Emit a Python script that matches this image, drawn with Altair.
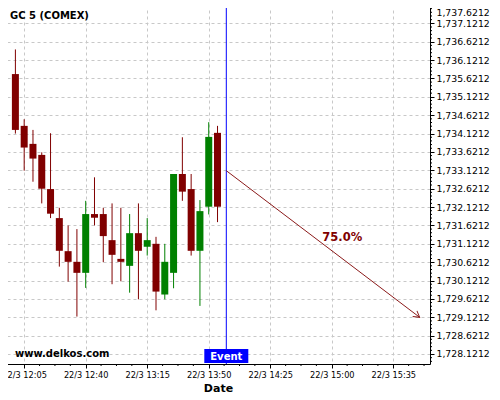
import altair as alt
import pandas as pd
import numpy as np

DAY = "2023-03-22"
times = ["12:00", "12:05", "12:10", "12:15", "12:20", "12:25", "12:30", "12:35",
         "12:40", "12:45", "12:50", "12:55", "13:00", "13:05", "13:10", "13:15",
         "13:20", "13:25", "13:30", "13:35", "13:40", "13:45", "13:50", "13:55"]
opens = [1735.74, 1734.33, 1733.84, 1733.54, 1732.61, 1731.82, 1730.92, 1730.63,
         1730.33, 1731.93, 1731.93, 1731.22, 1730.71, 1730.52, 1731.41, 1731.04,
         1731.12, 1729.74, 1730.33, 1733.02, 1732.61, 1730.93, 1732.13, 1734.14]
highs = [1736.41, 1734.51, 1734.22, 1733.61, 1734.13, 1732.10, 1731.62, 1731.52,
         1732.29, 1732.93, 1732.10, 1732.22, 1732.10, 1731.93, 1732.22, 1731.82,
         1731.31, 1731.12, 1733.02, 1734.02, 1733.02, 1732.31, 1734.43, 1734.33]
lows = [1734.12, 1733.11, 1732.81, 1732.22, 1731.82, 1730.50, 1730.09, 1729.14,
        1729.92, 1731.62, 1730.62, 1730.02, 1730.10, 1729.79, 1729.61, 1730.80,
        1729.31, 1729.61, 1729.91, 1732.29, 1730.80, 1729.43, 1731.92, 1731.71]
closes = [1734.22, 1733.74, 1733.44, 1732.62, 1731.94, 1730.93, 1730.63, 1730.33,
          1731.93, 1731.83, 1731.33, 1730.82, 1730.63, 1731.41, 1730.93, 1731.22,
          1729.82, 1730.63, 1733.02, 1732.54, 1730.93, 1732.01, 1734.03, 1732.13]

event_time = ["14:00"]
arrow_times = ["14:00", "15:50"]
arrow_values = [1733.11, 1729.12]
pct_label = ["75.0%"]
pct_time = ["15:06"]
pct_value = [1731.29]
chart_title = ["GC 5 (COMEX)"]
watermark = ["www.delkos.com"]
event_label = ["Event"]

x_tick_times = ["12:05", "12:40", "13:15", "13:50", "14:25", "15:00", "15:35"]
y_tick_values = [1728.1212, 1728.6212, 1729.1212, 1729.6212, 1730.1212, 1730.6212,
                 1731.1212, 1731.6212, 1732.1212, 1732.6212, 1733.1212, 1733.6212,
                 1734.1212, 1734.6212, 1735.1212, 1735.6212, 1736.1212, 1736.6212,
                 1737.1212, 1737.6212]
x_minor_minutes = [13.75, 22.5, 31.25, 48.75, 57.5, 66.25, 83.75, 92.5, 101.25,
                   118.75, 127.5, 136.25, 153.75, 162.5, 171.25, 188.75, 197.5,
                   206.25, 223.75, 232.5]
y_minor_values = [v for v in np.round(np.arange(1727.9212, 1737.65, 0.1), 4)
                  if round((v - 1728.1212) / 0.5, 4) % 1 != 0]


def ts(hm):
    return f"{DAY}T{hm}:00Z"


def dt(h, m, s=0):
    return alt.DateTime(year=2023, month=3, date=22, hours=h, minutes=m, seconds=s, utc=True)


xscale = alt.Scale(type="utc", domain=[dt(11, 57, 30), dt(15, 53, 3)], nice=False)
xaxis = alt.Axis(
    values=[dt(int(t[:2]), int(t[3:])) for t in x_tick_times],
    format="%-d/%-m %H:%M", grid=True, gridDash=[3, 3], gridColor="#c8c8c8",
    labelFontSize=8.2, labelFont="DejaVu Sans", labelColor="black",
    labelFlush=False, labelOverlap=False, labelPadding=3,
    tickSize=4, tickColor="black", domainColor="black",
    titleFont="DejaVu Sans", titleFontSize=11, titleFontWeight="bold",
    titleColor="black", titlePadding=4,
)
yscale = alt.Scale(domain=[1727.849, 1737.647], zero=False, nice=False)
yaxis = alt.Axis(
    orient="right", values=y_tick_values, format=",.4f", grid=True,
    gridDash=[3, 3], gridColor="#c8c8c8", labelFontSize=9.3,
    labelFont="DejaVu Sans", labelColor="black", labelPadding=2,
    tickSize=4, tickColor="black", domainColor="black",
    labelFlush=3, labelFlushOffset=-4,
    labelOverlap=False, title=None,
)


def X(field):
    return alt.X(field, type="temporal", scale=xscale, axis=xaxis, title="Date")


def Y(field):
    return alt.Y(field, type="quantitative", scale=yscale, axis=yaxis)


df = pd.DataFrame({"t": [ts(h) for h in times], "open": opens, "high": highs,
                   "low": lows, "close": closes})
df["dir"] = np.where(df["close"] >= df["open"], "up", "down")
color = alt.Color("dir:N", scale=alt.Scale(domain=["up", "down"],
                                           range=["#008000", "#800000"]), legend=None)

base = alt.Chart(df)
wicks = base.mark_rule(strokeWidth=1).encode(x=X("t"), y=Y("low"), y2="high", color=color)
bodies = base.mark_bar(size=7).encode(x=X("t"), y=Y("open"), y2="close", color=color)

ev = alt.Chart(pd.DataFrame({"t": [ts(t) for t in event_time], "label": event_label}))
event_rule = ev.mark_rule(color="#0000ff", strokeWidth=1).encode(x=X("t"))
event_box = ev.mark_point(
    shape="M -1 -0.318 L 1 -0.318 L 1 0.318 L -1 0.318 Z", size=1936,
    filled=True, color="#0000ff", opacity=1, strokeWidth=0,
).encode(x=X("t"), y=alt.value(352))
event_text = ev.mark_text(color="white", fontWeight="bold", fontSize=10,
                          font="DejaVu Sans", baseline="middle").encode(
    x=X("t"), y=alt.value(352.5), text="label:N")

arr = pd.DataFrame({"t": [ts(t) for t in arrow_times], "v": arrow_values})
arrow_line = alt.Chart(arr).mark_line(color="#8b1a1a", strokeWidth=1).encode(
    x=X("t"), y=Y("v"))
arrow_head = alt.Chart(arr.iloc[[1]]).mark_point(
    shape="M -1 -0.6 L 0 0 L -1 0.6", size=144, filled=False, color="#8b1a1a",
    strokeWidth=1, angle=36.6, opacity=1,
).encode(x=X("t"), y=Y("v"))

pct = alt.Chart(pd.DataFrame({"t": [ts(t) for t in pct_time], "v": pct_value,
                              "label": pct_label})).mark_text(
    color="#800000", fontWeight="bold", fontSize=11.5, font="DejaVu Sans",
    baseline="middle").encode(x=X("t"), y=Y("v"), text="label:N")

title_txt = alt.Chart(pd.DataFrame({"label": chart_title})).mark_text(
    align="left", baseline="middle", fontWeight="bold", fontSize=10,
    font="DejaVu Sans", color="black").encode(
    x=alt.value(4), y=alt.value(11.5), text="label:N")
wm_txt = alt.Chart(pd.DataFrame({"label": watermark})).mark_text(
    align="left", baseline="middle", fontWeight="bold", fontSize=10,
    font="DejaVu Sans", color="black").encode(
    x=alt.value(9), y=alt.value(349.5), text="label:N")

xminor = pd.DataFrame({"t": [(pd.Timestamp(f"{DAY}T12:00:00Z") + pd.Timedelta(minutes=m)).strftime("%Y-%m-%dT%H:%M:%SZ")
                             for m in x_minor_minutes]})
xminor_ticks = alt.Chart(xminor).mark_rule(color="black", strokeWidth=1).encode(
    x=X("t"), y=alt.value(360), y2=alt.value(362))
yminor = pd.DataFrame({"v": y_minor_values})
yminor_ticks = alt.Chart(yminor).mark_rule(color="black", strokeWidth=1).encode(
    y=Y("v"), x=alt.value(424), x2=alt.value(426))

chart = alt.layer(
    wicks, bodies, event_rule, arrow_line, arrow_head, pct, title_txt, wm_txt,
    event_box, event_text, xminor_ticks, yminor_ticks,
).properties(
    width=424, height=360,
    autosize=alt.AutoSizeParams(type="none"),
    padding={"left": -2, "top": -4, "right": 60, "bottom": 36},
    background="white",
).configure_view(stroke=None)

chart.save("out.html", embed_options={"renderer": "svg", "actions": False})
